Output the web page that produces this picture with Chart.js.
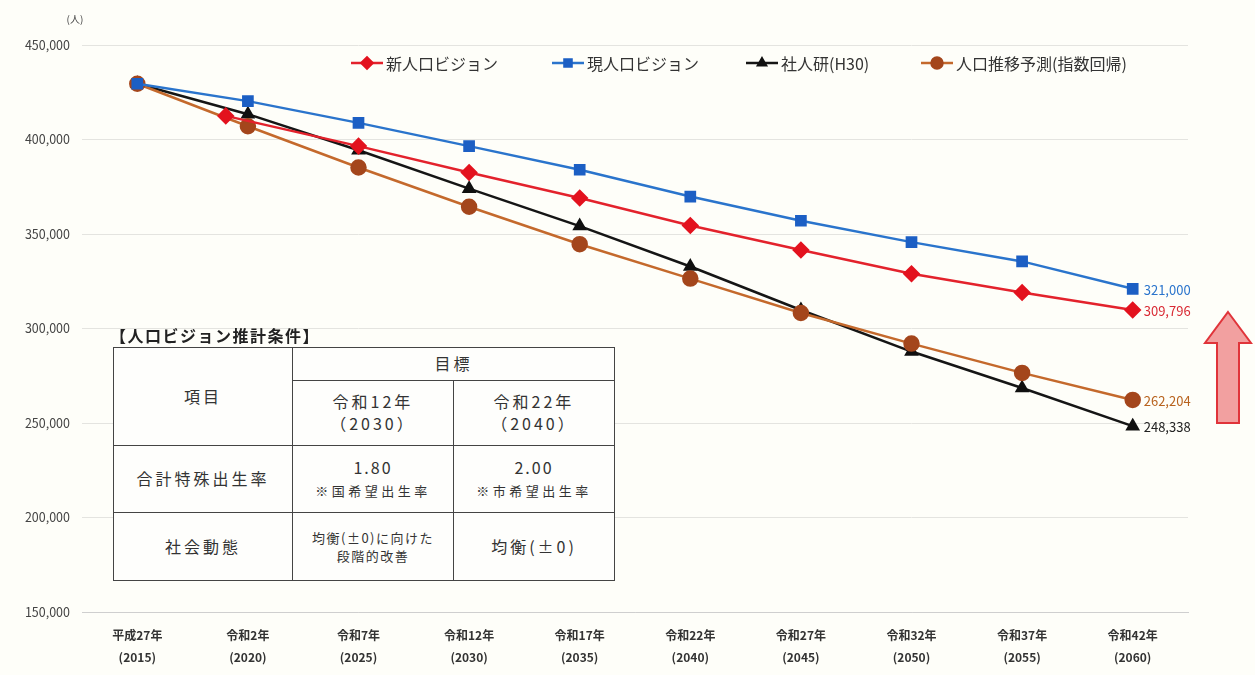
<!DOCTYPE html>
<html lang="ja">
<head>
<meta charset="utf-8">
<title>人口ビジョン</title>
<script src="https://cdn.jsdelivr.net/npm/chart.js@4.4.1/dist/chart.umd.min.js"></script>
<style>
  html, body { margin: 0; padding: 0; background: #fefef9; }
  #wrap { position: relative; width: 1255px; height: 675px; font-family: "Noto Sans CJK JP", sans-serif; }
  #myChart { position: absolute; left: 0; top: 0; }
  #tblTitle { position: absolute; left: 110px; top: 323px; font-size: 16px; font-weight: bold; color: #222; letter-spacing: 1.5px; }
  #cond { position: absolute; left: 113px; top: 347px; width: 502px; height: 233px; border-collapse: collapse;
          background: #fefefc; color: #333; font-size: 16px; text-align: center; letter-spacing: 3px; }
  #cond td { border: 1.5px solid #444; padding: 0; line-height: 1.35; }
  #cond .sm { font-size: 13px; letter-spacing: 3.5px; }
  #cond .xs { font-size: 13px; letter-spacing: 1.5px; }
  #cond .num { font-size: 16px; letter-spacing: 2px; }
</style>
</head>
<body>
<div id="wrap">
  <canvas id="myChart" width="1255" height="675"></canvas>
  <div id="tblTitle">【人口ビジョン推計条件】</div>
  <table id="cond">
    <tr style="height:33px"><td rowspan="2" style="width:178px">項目</td><td colspan="2">目標</td></tr>
    <tr style="height:65px"><td style="width:160px">令和12年<br>（2030）</td><td>令和22年<br>（2040）</td></tr>
    <tr style="height:67px"><td>合計特殊出生率</td><td><span class="num">1.80</span><br><span class="sm">※国希望出生率</span></td><td><span class="num">2.00</span><br><span class="sm">※市希望出生率</span></td></tr>
    <tr style="height:68px"><td>社会動態</td><td class="xs">均衡(±0)に向けた<br>段階的改善</td><td>均衡(±0)</td></tr>
  </table>
</div>
<script>
// x axis: years with era names
let years = [2015, 2020, 2025, 2030, 2035, 2040, 2045, 2050, 2055, 2060];
let eraLabels = ["平成27年", "令和2年", "令和7年", "令和12年", "令和17年", "令和22年", "令和27年", "令和32年", "令和37年", "令和42年"];
let yearLabels = ["(2015)", "(2020)", "(2025)", "(2030)", "(2035)", "(2040)", "(2045)", "(2050)", "(2055)", "(2060)"];
let yTicks = [150000, 200000, 250000, 300000, 350000, 400000, 450000];

// 新人口ビジョン starts one year earlier
let shinYears = [2019, 2025, 2030, 2035, 2040, 2045, 2050, 2055, 2060];
let shinVision = [412500, 396500, 382500, 369000, 354500, 341500, 329000, 319000, 309796];
let genVision = [429508, 420300, 408800, 396500, 384000, 369800, 357000, 345700, 335500, 321000];
let shajinken = [429508, 413400, 394300, 374000, 354200, 332800, 309800, 287800, 268500, 248338];
let suiiYosoku = [429508, 407000, 385200, 364400, 344600, 326400, 308200, 292000, 276500, 262204];

function toPoints(xs, ys) {
  return xs.map((x, i) => ({ x: x, y: ys[i] }));
}

let fontJP = '"Noto Sans CJK JP", sans-serif';

// legend with line + marker, and the unit label
let legendPlugin = {
  id: "lineLegend",
  afterDraw(chart) {
    let c = chart.ctx;
    let starts = [351, 552, 746, 921];
    c.save();
    c.font = "16px " + fontJP;
    c.textBaseline = "middle";
    chart.data.datasets.forEach((ds, i) => {
      let x = starts[i], y = 63;
      c.strokeStyle = ds.borderColor;
      c.lineWidth = 2.5;
      c.beginPath();
      c.moveTo(x, y);
      c.lineTo(x + 32, y);
      c.stroke();
      c.fillStyle = ds.pointBackgroundColor;
      c.strokeStyle = ds.pointBackgroundColor;
      Chart.helpers.drawPoint(c, {
        pointStyle: ds.pointStyle, radius: ds.pointRadius - 1.5, rotation: 0, borderWidth: 1
      }, x + 16, y);
      c.fillStyle = "#333";
      c.fillText(ds.label, x + 35, y + 1);
    });
    c.font = "10px " + fontJP;
    c.fillStyle = "#444";
    c.textAlign = "center";
    c.fillText("(人)", 75, 19);
    c.restore();
  }
};

// value labels at the last point of each series
let endLabelPlugin = {
  id: "endLabels",
  afterDatasetsDraw(chart) {
    let c = chart.ctx;
    c.save();
    c.font = "13px " + fontJP;
    c.textBaseline = "middle";
    chart.data.datasets.forEach((ds, i) => {
      let meta = chart.getDatasetMeta(i);
      let last = meta.data[meta.data.length - 1];
      let v = ds.data[ds.data.length - 1].y;
      c.fillStyle = ds.labelColor;
      c.fillText(v.toLocaleString("en-US"), last.x + 11, last.y + 1);
    });
    c.restore();
  }
};

// big up arrow on the right
let arrowPlugin = {
  id: "upArrow",
  afterDraw(chart) {
    let c = chart.ctx;
    c.save();
    c.beginPath();
    c.moveTo(1228, 312);
    c.lineTo(1251, 343);
    c.lineTo(1239, 343);
    c.lineTo(1239, 423);
    c.lineTo(1217, 423);
    c.lineTo(1217, 343);
    c.lineTo(1205, 343);
    c.closePath();
    c.fillStyle = "#f2a0a0";
    c.fill();
    c.strokeStyle = "#e0343a";
    c.lineWidth = 2;
    c.stroke();
    c.restore();
  }
};

var ctx = document.getElementById("myChart").getContext("2d");
var myChart = new Chart(ctx, {
  type: "line",
  data: {
    datasets: [
      {
        label: "新人口ビジョン",
        data: toPoints(shinYears, shinVision),
        borderColor: "#e3222c",
        pointBackgroundColor: "#e3121e",
        pointBorderColor: "#e3121e",
        labelColor: "#d92a34",
        pointStyle: "rectRot",
        pointRadius: 7,
        borderWidth: 2.5,
        order: 1,
      },
      {
        label: "現人口ビジョン",
        data: toPoints(years, genVision),
        borderColor: "#2a74cc",
        pointBackgroundColor: "#1c5fc4",
        pointBorderColor: "#1c5fc4",
        labelColor: "#2a74cc",
        pointStyle: "rect",
        pointRadius: 6.5,
        borderWidth: 2.5,
        order: 0,
      },
      {
        label: "社人研(H30)",
        data: toPoints(years, shajinken),
        borderColor: "#151515",
        pointBackgroundColor: "#101010",
        pointBorderColor: "#101010",
        labelColor: "#222",
        pointStyle: "triangle",
        pointRadius: 6,
        borderWidth: 2.5,
        order: 3,
      },
      {
        label: "人口推移予測(指数回帰)",
        data: toPoints(years, suiiYosoku),
        borderColor: "#c4692c",
        pointBackgroundColor: "#a4461c",
        pointBorderColor: "#a4461c",
        labelColor: "#b8631f",
        pointStyle: "circle",
        pointRadius: 7,
        borderWidth: 2.5,
        order: 2,
      },
    ],
  },
  options: {
    responsive: false,
    animation: false,
    layout: { padding: { top: 45, right: 67, left: 0, bottom: 0 } },
    plugins: {
      legend: { display: false },
      tooltip: { enabled: false },
    },
    scales: {
      x: {
        type: "linear",
        min: 2012.5,
        max: 2062.5,
        afterBuildTicks: (scale) => {
          scale.ticks = years.map((v) => ({ value: v }));
        },
        afterFit: (scale) => { scale.height = 63; },
        grid: { display: false },
        border: { display: true, color: "#cfcfcf" },
        ticks: {
          autoSkip: false,
          maxRotation: 0,
          padding: 5,
          color: "#333",
          font: { family: fontJP, size: 12, weight: "bold", lineHeight: 1.8 },
          callback: (value) => {
            let i = years.indexOf(value);
            return i < 0 ? "" : [eraLabels[i], yearLabels[i]];
          },
        },
      },
      y: {
        min: 150000,
        max: 450000,
        afterBuildTicks: (scale) => {
          scale.ticks = yTicks.map((v) => ({ value: v }));
        },
        afterFit: (scale) => { scale.width = 82; },
        grid: { color: "#e4e4e0", drawTicks: false },
        border: { display: false },
        ticks: {
          padding: 12,
          color: "#444",
          font: { family: fontJP, size: 12.5 },
          callback: (value) => value.toLocaleString("en-US"),
        },
      },
    },
  },
  plugins: [legendPlugin, endLabelPlugin, arrowPlugin],
});
</script>
</body>
</html>
